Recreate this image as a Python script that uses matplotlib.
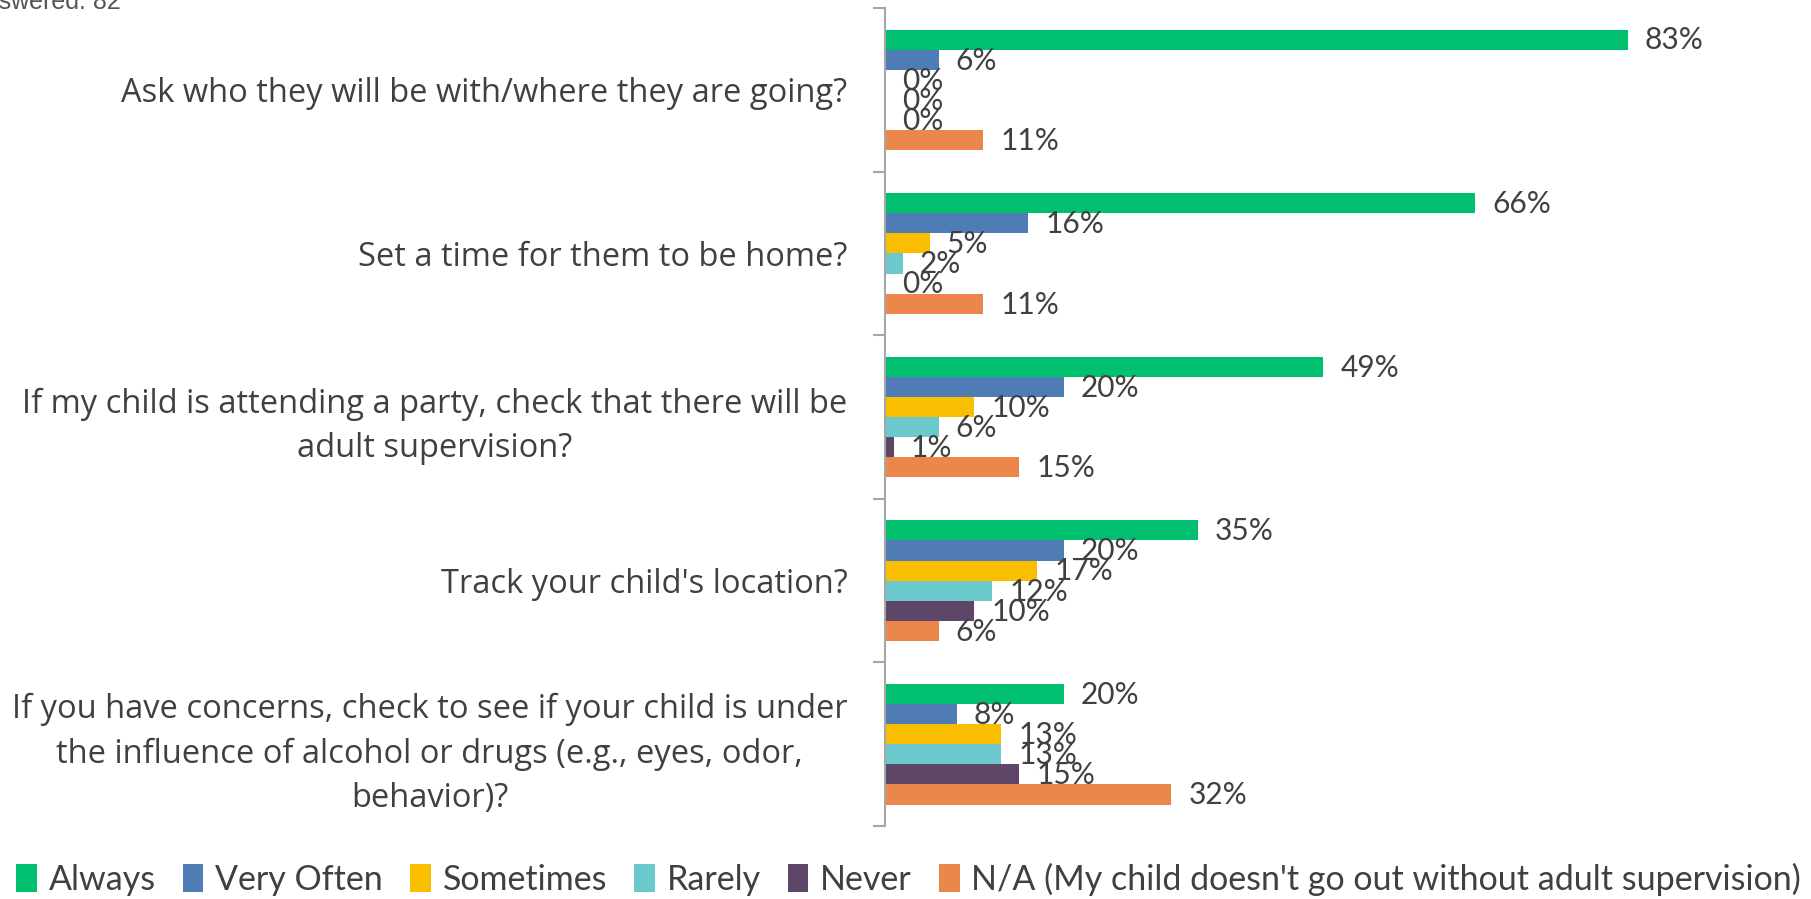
import matplotlib.pyplot as plt
import numpy as np

categories = [
    "Ask who they will be with/where they are going?",
    "Set a time for them to be home?",
    "If my child is attending a party, check that there will be\nadult supervision?",
    "Track your child's location?",
    "If you have concerns, check to see if your child is under\nthe influence of alcohol or drugs (e.g., eyes, odor,\nbehavior)?",
]
series = ["Always", "Very Often", "Sometimes", "Rarely", "Never",
          "N/A (My child doesn't go out without adult supervision)"]
always = [83, 66, 49, 35, 20]
very_often = [6, 16, 20, 20, 8]
sometimes = [0, 5, 10, 17, 13]
rarely = [0, 2, 6, 12, 13]
never = [0, 0, 1, 10, 15]
na = [11, 11, 15, 6, 32]
values = [always, very_often, sometimes, rarely, never, na]
colors = ["#00BF6F", "#507CB6", "#F9BE00", "#6BC8CD", "#5E4669", "#EC874C"]

text_color = "#404040"

fig = plt.figure(figsize=(18.11, 8.99), dpi=100)
ax = fig.add_axes([0.4887, 0.0812, 0.494, 0.9098])

n = len(categories)
h = 0.123
y_base = np.arange(n)
for j, (vals, col, name) in enumerate(zip(values, colors, series)):
    ys = y_base + (j - 2.5) * h
    ax.barh(ys, vals, height=h, color=col, label=name)
    for y, v in zip(ys, vals):
        ax.text(v + 1.9, y + 0.005, f"{v}%", va="center", ha="left",
                fontsize=21.5, color=text_color, family="Lato")

ax.set_xlim(0, 100)
ax.set_ylim(n - 0.5, -0.5)

for s in ["top", "right", "bottom"]:
    ax.spines[s].set_visible(False)
ax.spines["left"].set_color("#a6a6a6")
ax.spines["left"].set_linewidth(1.5)
ax.set_xticks([])

ax.set_yticks(y_base)
ax.set_yticklabels(categories, fontsize=23.5, color=text_color,
                   family="Open Sans", multialignment="center",
                   linespacing=1.45)
ax.tick_params(axis="y", which="major", length=0, pad=27)
ax.set_yticks(np.arange(n + 1) - 0.5, minor=True)
ax.tick_params(axis="y", which="minor", length=9, width=1.5,
               color="#a6a6a6", direction="out")

fig.text(121 / 1811, 1 - 9 / 899, "Answered: 82", ha="right", va="baseline",
         fontsize=18, color="#555555", family="Liberation Sans")

fig.legend(loc="center left", bbox_to_anchor=(0.009, 20 / 899), ncol=6,
           frameon=False, handlelength=0.6, handleheight=0.9,
           handletextpad=0.35, columnspacing=0.8, labelcolor=text_color,
           borderaxespad=0, borderpad=0,
           prop={"family": "Lato", "size": 24.5})

fig.savefig("out.png", dpi=100)
